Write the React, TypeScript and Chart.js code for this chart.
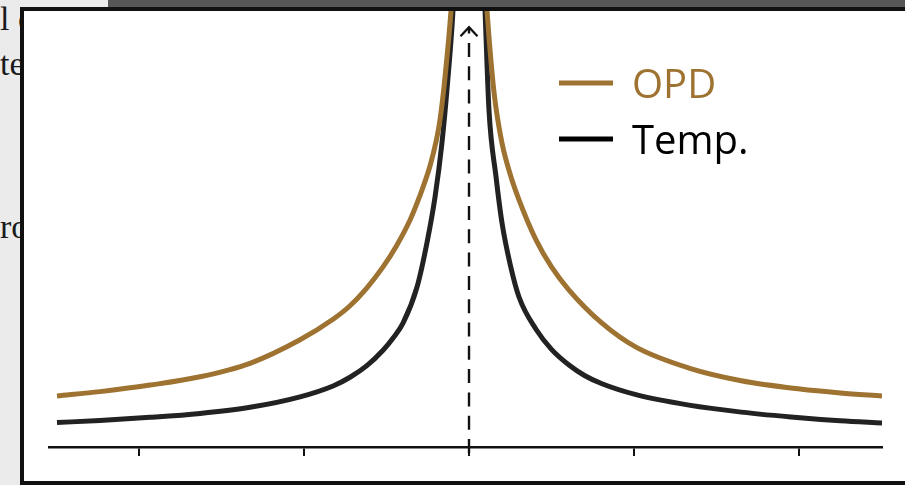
import React, { useEffect, useRef } from "react";
import { Chart, registerables } from "chart.js";

Chart.register(...registerables);

// OPD curve (x = offset from centre, y = relative response); null = gap at the off-scale peak
const opdX = [-2.497, -2.236, -1.933, -1.63, -1.327, -1.024, -0.824, -0.721, -0.621, -0.521, -0.44, -0.358, -0.3, -0.236, -0.2, -0.176, -0.145, -0.109, -0.09, 0,
  0.09, 0.109, 0.152, 0.2, 0.25, 0.303, 0.406, 0.5, 0.606, 0.806, 1.012, 1.333, 1.65, 2.006, 2.25, 2.503];
const opdY = [11.7, 12.7, 14.2, 16.1, 19.2, 24.6, 29.3, 32.4, 36.4, 41.3, 46.1, 52.0, 57.4, 64.5, 70.0, 75.0, 85.0, 100.2, 112, null,
  112, 100.2, 81.2, 69.7, 62.5, 56.7, 47.5, 41.3, 36.0, 28.4, 22.9, 18.1, 15.2, 13.3, 12.4, 11.7];

// Temperature curve
const tempX = [-2.497, -2.236, -1.933, -1.63, -1.327, -1.024, -0.824, -0.721, -0.621, -0.521, -0.46, -0.4, -0.315, -0.255, -0.206, -0.164, -0.127, -0.097, -0.08, 0,
  0.08, 0.097, 0.121, 0.164, 0.2, 0.25, 0.303, 0.406, 0.5, 0.606, 0.7, 0.806, 1.012, 1.333, 1.65, 2.006, 2.25, 2.503];
const tempY = [5.6, 6.1, 6.8, 7.7, 9.1, 11.5, 14.0, 16.0, 18.6, 22.2, 25.0, 28.4, 36.7, 46.8, 57.3, 69.7, 84.9, 100.2, 115, null,
  115, 100.2, 77.3, 61.9, 51.4, 41.8, 34.4, 27.0, 22.4, 18.8, 16.4, 14.5, 12.0, 9.6, 8.0, 6.7, 6.0, 5.5];

const tickValues = [-2, -1, 0, 1, 2];
const seriesLabels = ["OPD", "Temp."];
const seriesColors = ["#9e7230", "#222222"];
const legendTextColors = ["#9e7230", "#000000"];
const legendLineColors = ["#9e7230", "#000000"];
const markerX = 0;
const arrowTipY = 96.3;
const xMin = -2.5455;
const xMax = 2.503;
const yMin = 0;
const yMax = 100;

export default function App() {
  const ref = useRef<HTMLCanvasElement>(null);

  useEffect(() => {
    const canvas = ref.current;
    if (!canvas) return;

    const markerPlugin = {
      id: "marker",
      afterDatasetsDraw(chart: any) {
        const { ctx } = chart;
        const xs = chart.scales.x;
        const ys = chart.scales.y;
        const px = xs.getPixelForValue(markerX);
        const bottom = ys.getPixelForValue(0) + 6;
        const tip = ys.getPixelForValue(arrowTipY);
        ctx.save();
        ctx.strokeStyle = "#111111";
        ctx.lineWidth = 2.4;
        ctx.setLineDash([14, 9.3]);
        ctx.beginPath();
        ctx.moveTo(px, bottom);
        ctx.lineTo(px, tip);
        ctx.stroke();
        ctx.setLineDash([]);
        ctx.lineWidth = 2.2;
        ctx.beginPath();
        ctx.moveTo(px - 8.5, tip + 9);
        ctx.lineTo(px, tip);
        ctx.lineTo(px + 8.5, tip + 9);
        ctx.stroke();
        ctx.restore();
      },
    };

    const legendPlugin = {
      id: "customLegend",
      afterDraw(chart: any) {
        const { ctx, chartArea } = chart;
        const x0 = chartArea.left + 510;
        const y0 = chartArea.top + 72;
        ctx.save();
        ctx.font = "40px 'Open Sans'";
        ctx.textBaseline = "alphabetic";
        chart.data.datasets.forEach((ds: any, i: number) => {
          const y = y0 + i * 56;
          ctx.strokeStyle = legendLineColors[i];
          ctx.lineWidth = 5;
          ctx.beginPath();
          ctx.moveTo(x0, y);
          ctx.lineTo(x0 + 54, y);
          ctx.stroke();
          ctx.fillStyle = legendTextColors[i];
          ctx.fillText(ds.label, x0 + 73, y + 15);
        });
        ctx.restore();
      },
    };

    const chart = new Chart(canvas, {
      type: "line",
      data: {
        datasets: [
          {
            label: seriesLabels[0],
            data: opdX.map((x, i) => ({ x, y: opdY[i] })),
            borderColor: seriesColors[0],
            borderWidth: 5,
            pointRadius: 0,
            cubicInterpolationMode: "monotone",
            spanGaps: false,
            fill: false,
          },
          {
            label: seriesLabels[1],
            data: tempX.map((x, i) => ({ x, y: tempY[i] })),
            borderColor: seriesColors[1],
            borderWidth: 5,
            pointRadius: 0,
            cubicInterpolationMode: "monotone",
            spanGaps: false,
            fill: false,
          },
        ],
      },
      options: {
        animation: false,
        responsive: false,
        maintainAspectRatio: false,
        layout: { padding: { left: 25, right: 23, top: 0, bottom: 22 } },
        plugins: {
          legend: { display: false },
          tooltip: { enabled: false },
        },
        scales: {
          x: {
            type: "linear",
            min: xMin,
            max: xMax,
            afterBuildTicks: (scale: any) => {
              scale.ticks = tickValues.map((v) => ({ value: v }));
            },
            afterFit: (scale: any) => {
              scale.height = 12;
            },
            ticks: { display: false },
            grid: {
              display: true,
              drawOnChartArea: false,
              drawTicks: true,
              tickLength: 9,
              color: "#111111",
              lineWidth: 2,
            },
            border: { display: true, color: "#111111", width: 2.4 },
          },
          y: {
            type: "linear",
            min: yMin,
            max: yMax,
            display: false,
          },
        },
      },
      plugins: [markerPlugin, legendPlugin],
    } as any);

    return () => chart.destroy();
  }, []);

  const bgText: React.CSSProperties = {
    position: "absolute",
    left: 0,
    fontFamily: "'Liberation Serif', serif",
    fontSize: "34px",
    lineHeight: "34px",
    color: "#1a1a1a",
    whiteSpace: "nowrap",
  };

  return (
    <div
      style={{
        position: "fixed",
        left: 0,
        top: 0,
        width: 905,
        height: 485,
        overflow: "hidden",
        background: "#ebebeb",
      }}
    >
      <div style={{ ...bgText, top: 1.5 }}>l c</div>
      <div style={{ ...bgText, top: 46.5 }}>te</div>
      <div style={{ ...bgText, top: 209.5 }}>ro</div>
      <div
        style={{
          position: "absolute",
          left: 108,
          top: 0,
          width: 797,
          height: 7,
          background: "#575757",
        }}
      />
      <div
        style={{
          position: "absolute",
          left: 20,
          top: 7,
          width: 1000,
          height: 478,
          boxSizing: "border-box",
          border: "4px solid #111111",
          background: "#ffffff",
        }}
      />
      <canvas
        ref={ref}
        width={881}
        height={470}
        style={{ position: "absolute", left: 24, top: 11, width: 881, height: 470 }}
      />
    </div>
  );
}
